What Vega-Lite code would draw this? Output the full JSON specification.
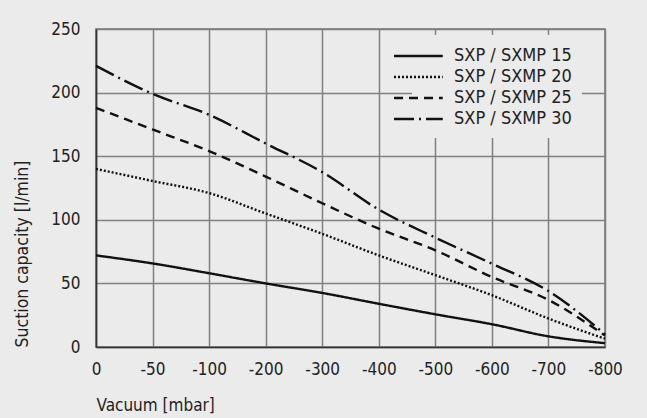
{
  "$schema": "https://vega.github.io/schema/vega-lite/v6.json",
  "width": 509,
  "height": 318,
  "autosize": {"type": "none"},
  "padding": {"left": 96, "top": 29, "right": 42, "bottom": 71},
  "background": "#ebebeb",
  "config": {
    "font": "DejaVu Sans Condensed, Liberation Sans Narrow, sans-serif",
    "view": {"stroke": "#707070", "strokeWidth": 1.5},
    "axis": {
      "gridColor": "#808080",
      "gridWidth": 1.5,
      "gridOpacity": 1,
      "ticks": false,
      "domainColor": "#333333",
      "domainWidth": 1.6,
      "labelFontSize": 17,
      "labelColor": "#222222",
      "titleFontSize": 17,
      "titleFontWeight": "normal",
      "titleColor": "#222222"
    }
  },
  "data": {
    "values": [
      {"vacuum": 0, "capacity": 72, "series": "SXP / SXMP 15"},
      {"vacuum": -50, "capacity": 65.7, "series": "SXP / SXMP 15"},
      {"vacuum": -100, "capacity": 58, "series": "SXP / SXMP 15"},
      {"vacuum": -200, "capacity": 50, "series": "SXP / SXMP 15"},
      {"vacuum": -300, "capacity": 42.5, "series": "SXP / SXMP 15"},
      {"vacuum": -400, "capacity": 34, "series": "SXP / SXMP 15"},
      {"vacuum": -500, "capacity": 25.7, "series": "SXP / SXMP 15"},
      {"vacuum": -600, "capacity": 17.9, "series": "SXP / SXMP 15"},
      {"vacuum": -700, "capacity": 8.4, "series": "SXP / SXMP 15"},
      {"vacuum": -800, "capacity": 3, "series": "SXP / SXMP 15"},
      {"vacuum": 0, "capacity": 140, "series": "SXP / SXMP 20"},
      {"vacuum": -50, "capacity": 130.5, "series": "SXP / SXMP 20"},
      {"vacuum": -100, "capacity": 121, "series": "SXP / SXMP 20"},
      {"vacuum": -200, "capacity": 105, "series": "SXP / SXMP 20"},
      {"vacuum": -300, "capacity": 89, "series": "SXP / SXMP 20"},
      {"vacuum": -400, "capacity": 72, "series": "SXP / SXMP 20"},
      {"vacuum": -500, "capacity": 56.5, "series": "SXP / SXMP 20"},
      {"vacuum": -600, "capacity": 40.7, "series": "SXP / SXMP 20"},
      {"vacuum": -700, "capacity": 22.4, "series": "SXP / SXMP 20"},
      {"vacuum": -800, "capacity": 6.5, "series": "SXP / SXMP 20"},
      {"vacuum": 0, "capacity": 188, "series": "SXP / SXMP 25"},
      {"vacuum": -50, "capacity": 171, "series": "SXP / SXMP 25"},
      {"vacuum": -100, "capacity": 154, "series": "SXP / SXMP 25"},
      {"vacuum": -200, "capacity": 134, "series": "SXP / SXMP 25"},
      {"vacuum": -300, "capacity": 113, "series": "SXP / SXMP 25"},
      {"vacuum": -400, "capacity": 93, "series": "SXP / SXMP 25"},
      {"vacuum": -500, "capacity": 76, "series": "SXP / SXMP 25"},
      {"vacuum": -600, "capacity": 55, "series": "SXP / SXMP 25"},
      {"vacuum": -700, "capacity": 37, "series": "SXP / SXMP 25"},
      {"vacuum": -800, "capacity": 9, "series": "SXP / SXMP 25"},
      {"vacuum": 0, "capacity": 221, "series": "SXP / SXMP 30"},
      {"vacuum": -50, "capacity": 199, "series": "SXP / SXMP 30"},
      {"vacuum": -100, "capacity": 182.5, "series": "SXP / SXMP 30"},
      {"vacuum": -200, "capacity": 160, "series": "SXP / SXMP 30"},
      {"vacuum": -300, "capacity": 137.5, "series": "SXP / SXMP 30"},
      {"vacuum": -400, "capacity": 108, "series": "SXP / SXMP 30"},
      {"vacuum": -500, "capacity": 86, "series": "SXP / SXMP 30"},
      {"vacuum": -600, "capacity": 65.5, "series": "SXP / SXMP 30"},
      {"vacuum": -700, "capacity": 44, "series": "SXP / SXMP 30"},
      {"vacuum": -800, "capacity": 10, "series": "SXP / SXMP 30"}
    ]
  },
  "mark": {"type": "line", "color": "#111111", "strokeWidth": 2.4, "interpolate": "monotone"},
  "encoding": {
    "x": {
      "field": "vacuum",
      "type": "quantitative",
      "scale": {"domain": [0, -100, -800], "range": [0, 113.11, 509], "nice": false, "zero": false},
      "axis": {
        "values": [0, -50, -100, -200, -300, -400, -500, -600, -700, -800],
        "labelExpr": "datum.value + ''",
        "labelFlush": false,
        "labelOverlap": false,
        "title": "Vacuum [mbar]",
        "titleAnchor": "start",
        "titleAlign": "left",
        "titlePadding": 20,
        "labelPadding": 14
      }
    },
    "y": {
      "field": "capacity",
      "type": "quantitative",
      "scale": {"domain": [0, 250], "nice": false},
      "axis": {
        "values": [0, 50, 100, 150, 200, 250],
        "labelFlush": false,
        "title": "Suction capacity [l/min]",
        "titleFontSize": 17.5,
        "titleAnchor": "start",
        "titlePadding": 19,
        "labelPadding": 16
      }
    },
    "detail": {"field": "series"},
    "strokeDash": {
      "field": "series",
      "type": "nominal",
      "scale": {
        "domain": ["SXP / SXMP 15", "SXP / SXMP 20", "SXP / SXMP 25", "SXP / SXMP 30"],
        "range": [[1, 0], [2, 2], [9, 6], [20, 5, 2, 5]]
      },
      "legend": {
        "title": null,
        "orient": "none",
        "legendX": 316,
        "legendY": 6,
        "fillColor": "#ebebeb",
        "padding": 10,
        "symbolType": "M-4,0H1",
        "symbolSize": 380,
        "symbolStrokeWidth": 2.4,
        "symbolStrokeColor": "#111111",
        "labelFontSize": 18,
        "labelColor": "#222222",
        "rowPadding": 1,
        "labelOffset": 10
      }
    }
  }
}
